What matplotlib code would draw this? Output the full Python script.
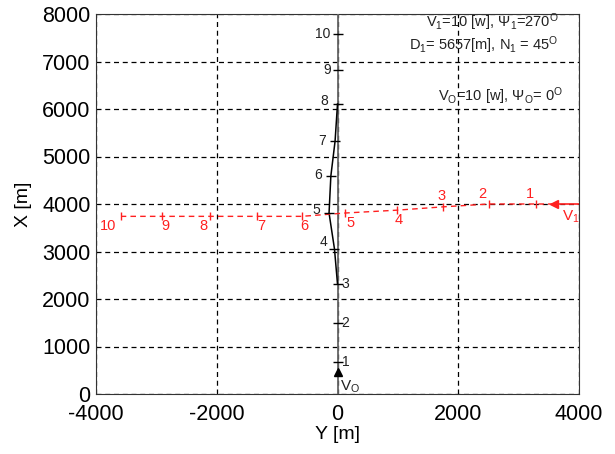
import matplotlib
matplotlib.use("Agg")
import matplotlib.pyplot as plt

# own ship track (Y, X) and numbered positions
own_start = (0, 470)
own_y = [0, 0, 0, -50, -140, -110, -40, 0, 0, 0]
own_x = [674, 1495, 2316, 3053, 3810, 4590, 5326, 6105, 6821, 7579]
own_labels = ["1", "2", "3", "4", "5", "6", "7", "8", "9", "10"]

# target track
tgt_start = (4000, 4000)
tgt_arrow = (3580, 4000)
tgt_y = [3280, 2510, 1747, 985, 124, -593, -1338, -2111, -2911, -3585]
tgt_x = [4000, 4000, 3940, 3870, 3810, 3740, 3740, 3740, 3740, 3740]
tgt_labels = ["1", "2", "3", "4", "5", "6", "7", "8", "9", "10"]

info_lines = [r"V$_1$=10 [w], $\Psi_1$=270$^O$",
              r"D$_1$= 5657[m], N$_1$ = 45$^O$",
              r"V$_O$=10 [w], $\Psi_O$= 0$^O$"]

plt.rcParams["font.family"] = ["Liberation Sans", "DejaVu Sans"]
plt.rcParams["mathtext.fontset"] = "custom"
plt.rcParams["mathtext.rm"] = "Liberation Sans"
plt.rcParams["mathtext.it"] = "Liberation Sans"
plt.rcParams["mathtext.default"] = "regular"
plt.rcParams["axes.unicode_minus"] = False

fig = plt.figure(figsize=(6.15, 4.54), dpi=100)
ax = fig.add_axes([96 / 615, 1 - 394 / 454, 483 / 615, 380 / 454])
ax.set_xlim(-4000, 4000)
ax.set_ylim(0, 8000)
ax.set_xticks([-4000, -2000, 0, 2000, 4000])
ax.set_yticks(range(0, 8001, 1000))
ax.grid(True, color="black", linestyle=(0, (4, 3)), linewidth=0.9)
ax.tick_params(labelsize=15.5, length=0)
ax.tick_params(axis="x", pad=7)
ax.tick_params(axis="y", pad=4)
ax.set_xlabel("Y [m]", fontsize=14, labelpad=1)
ax.set_ylabel("X [m]", fontsize=14, labelpad=7)
for s in ax.spines.values():
    s.set_color("#333333")

# own ship: grey reference line and black track
ax.plot([0, 0], [0, 8000], color="#666666", lw=1.3, zorder=3)
ax.plot(own_y[2:8], own_x[2:8], color="black", lw=1.1, zorder=4)
ax.plot(own_y, own_x, ls="none", marker="_", ms=7, mew=1, color="black", zorder=5)
ax.plot(*own_start, marker="^", ms=6, color="black", zorder=5)
own_off = [(3, 0), (3, 0), (3, 0), (-11, 5), (-12, 2), (-12, 1), (-12, 0), (-12, 2), (-10, 0), (-16, 0)]
for yy, xx, lab, (dx, dy) in zip(own_y, own_x, own_labels, own_off):
    ax.annotate(lab, (yy, xx), xytext=(dx, dy), textcoords="offset points",
                fontsize=10, color="#222222", va="center", ha="left", zorder=6)
ax.annotate(r"V$_O$", own_start, xytext=(2, -11), textcoords="offset points",
            fontsize=11, color="#222222", va="center", ha="left", zorder=6)

# target: solid start, arrow, dashed track
red = "#ff2020"
ax.plot([tgt_start[0], tgt_arrow[0]], [tgt_start[1], tgt_arrow[1]], color=red, lw=1.2, zorder=4)
ax.plot(*tgt_arrow, marker="<", ms=6, color=red, zorder=5)
ax.plot([tgt_arrow[0]] + tgt_y, [tgt_arrow[1]] + tgt_x, color=red, lw=1.0,
        ls=(0, (4, 3)), zorder=4)
ax.plot(tgt_y, tgt_x, ls="none", marker="|", ms=6, mew=1, color=red, zorder=5)
tgt_off = [(-4, 7), (-5, 7), (-1, 8), (1, -7), (4, -7), (2, -7), (3, -7), (-5, -7), (3, -7), (-9, -7)]
for yy, xx, lab, (dx, dy) in zip(tgt_y, tgt_x, tgt_labels, tgt_off):
    ax.annotate(lab, (yy, xx), xytext=(dx, dy), textcoords="offset points",
                fontsize=10.5, color=red, va="center", ha="center", zorder=6)
ax.annotate(r"V$_1$", tgt_arrow, xytext=(6, -9), textcoords="offset points",
            fontsize=11, color=red, va="center", ha="left", zorder=6)

# info text
ax.text(0.957, 0.978, info_lines[0], transform=ax.transAxes, ha="right", va="center",
        fontsize=10.5, color="#222222", zorder=6)
ax.text(0.957, 0.918, info_lines[1], transform=ax.transAxes, ha="right", va="center",
        fontsize=10.5, color="#222222", zorder=6)
ax.text(0.967, 0.784, info_lines[2], transform=ax.transAxes, ha="right", va="center",
        fontsize=10.5, color="#222222", zorder=6)

fig.savefig("out.png", dpi=100)
